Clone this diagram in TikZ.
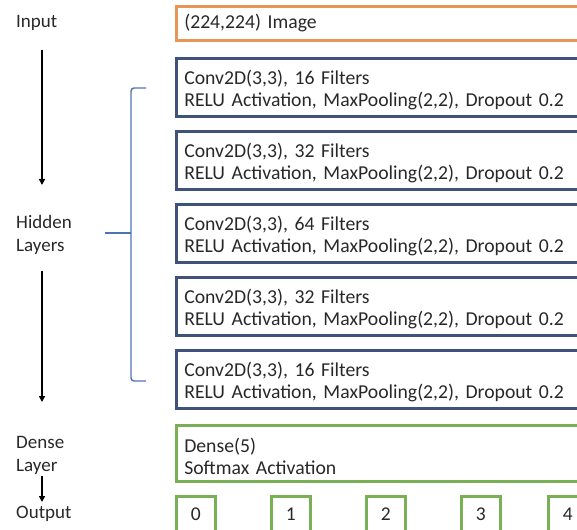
\documentclass[tikz,border=0pt]{standalone}
\usepackage{fontspec}
\setmainfont{Carlito}
\usetikzlibrary{arrows.meta}
\definecolor{orangeC}{RGB}{232,150,85}
\definecolor{blueC}{RGB}{62,82,122}
\definecolor{greenC}{RGB}{122,176,84}
\definecolor{braceC}{RGB}{80,115,180}
\definecolor{txtC}{RGB}{40,40,40}
\newcommand\toppad{\rule{0pt}{20.5pt}}
\tikzset{
  lbl/.style={font=\fontsize{19}{23}\selectfont, text=txtC, anchor=west, align=left, inner sep=0pt},
  layerbox/.style={draw=blueC, line width=2.6pt, anchor=north west, align=left,
    text width=394pt, inner xsep=8pt, inner ysep=2pt, minimum height=58pt, text=txtC,
    font=\fontsize{19.7}{22}\selectfont},
  inbox/.style={layerbox, draw=orangeC, minimum height=34pt},
  densebox/.style={layerbox, draw=greenC, minimum height=56pt},
  outbox/.style={draw=greenC, line width=2.6pt, anchor=north west, minimum width=39pt,
    minimum height=36pt, text=txtC, font=\fontsize{19.5}{22}\selectfont},
  flow/.style={draw=black, line width=1.8pt, -{Triangle[length=6pt,width=6pt]}},
  bracel/.style={draw=braceC, line width=1.4pt, rounded corners=3pt},
}
\begin{document}
\begin{tikzpicture}[x=1pt,y=1pt]
\useasboundingbox (0,0) rectangle (577,-529);
% left labels
\node[lbl] (inp) at (16,-23) {Input};
\node[lbl] (hid) at (16,-235) {Hidden\\Layers};
\node[lbl] (den) at (16,-455) {Dense\\Layer};
\node[lbl] (outl) at (16,-514) {Output};
% arrows
\coordinate (a1s) at (42,-50);
\coordinate (a1e) at (42,-185);
\coordinate (a2s) at (42,-271);
\coordinate (a2e) at (42,-402);
\coordinate (a3s) at (42,-476);
\coordinate (a3e) at (42,-502);
\draw[flow] (a1s) -- (a1e);
\draw[flow] (a2s) -- (a2e);
\draw[flow] (a3s) -- (a3e);
% boxes
\node[inbox] (img) at (175,-5) {(224,224) Image};
\node[layerbox] (c1) at (175,-57) {\toppad Conv2D(3,3), 16 Filters\\RELU Activation, MaxPooling(2,2), Dropout 0.2};
\node[layerbox] (c2) at (175,-130) {\toppad Conv2D(3,3), 32 Filters\\RELU Activation, MaxPooling(2,2), Dropout 0.2};
\node[layerbox] (c3) at (175,-203) {\toppad Conv2D(3,3), 64 Filters\\RELU Activation, MaxPooling(2,2), Dropout 0.2};
\node[layerbox] (c4) at (175,-276) {\toppad Conv2D(3,3), 32 Filters\\RELU Activation, MaxPooling(2,2), Dropout 0.2};
\node[layerbox] (c5) at (175,-349) {\toppad Conv2D(3,3), 16 Filters\\RELU Activation, MaxPooling(2,2), Dropout 0.2};
\node[densebox] (dn) at (175,-424) {\toppad Dense(5)\\Softmax Activation};
% outputs
\node[outbox] (o0) at (175,-495) {0};
\node[outbox] (o1) at (270,-495) {1};
\node[outbox] (o2) at (365,-495) {2};
\node[outbox] (o3) at (460,-495) {3};
\node[outbox] (o4) at (547,-495) {4};
% brace
\coordinate (bt) at (146,-88);
\coordinate (bb) at (146,-381);
\coordinate (bm) at (105,-233);
\draw[bracel] (bt) -- (131,-88) -- (131,-381) -- (bb);
\draw[bracel] (bm) -- (131,-233);
\end{tikzpicture}
\end{document}
